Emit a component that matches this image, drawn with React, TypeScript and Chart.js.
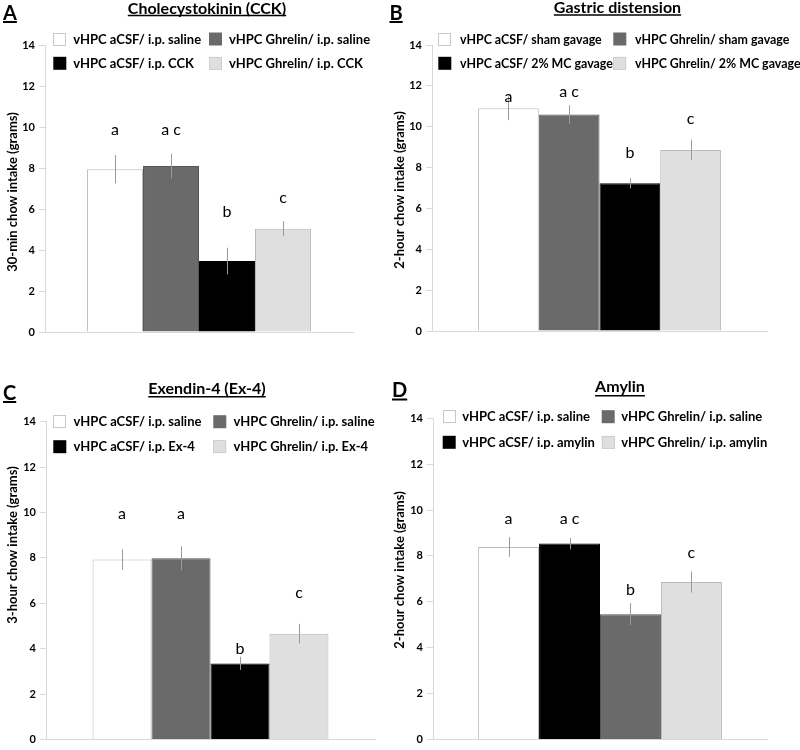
import React, { useEffect, useRef } from "react";
import { Chart, registerables } from "chart.js";

Chart.register(...registerables);

// ---------------- DATA ----------------
const yMin = 0;
const yMax = 14;
const yStep = 2;
const category = [""];

// Panel A – Cholecystokinin (CCK)
const titleA = "Cholecystokinin (CCK)";
const yTitleA = "30-min chow intake (grams)";
const groupsA = ["vHPC aCSF/ i.p. saline", "vHPC Ghrelin/ i.p. saline", "vHPC aCSF/ i.p. CCK", "vHPC Ghrelin/ i.p. CCK"];
const meansA = [7.94, 8.1, 3.46, 5.04];
const semA = [0.69, 0.6, 0.65, 0.37];
const sigA = ["a", "a c", "b", "c"];
const sigPosA = [9.59, 9.59, 5.61, 6.29];
const legendOrderA = [0, 1, 2, 3];

// Panel B – Gastric distension
const titleB = "Gastric distension";
const yTitleB = "2-hour chow intake (grams)";
const groupsB = ["vHPC aCSF/ sham gavage", "vHPC Ghrelin/ sham gavage", "vHPC aCSF/ 2% MC gavage", "vHPC Ghrelin/ 2% MC gavage"];
const meansB = [10.9, 10.6, 7.23, 8.86];
const semB = [0.58, 0.45, 0.25, 0.5];
const sigB = ["a", "a c", "b", "c"];
const sigPosB = [11.21, 11.45, 8.47, 10.13];
const legendOrderB = [0, 1, 2, 3];

// Panel C – Exendin-4 (Ex-4)
const titleC = "Exendin-4 (Ex-4)";
const yTitleC = "3-hour chow intake (grams)";
const groupsC = ["vHPC aCSF/ i.p. saline", "vHPC Ghrelin/ i.p. saline", "vHPC aCSF/ i.p. Ex-4", "vHPC Ghrelin/ i.p. Ex-4"];
const meansC = [7.93, 7.98, 3.35, 4.66];
const semC = [0.45, 0.53, 0.29, 0.43];
const sigC = ["a", "a", "b", "c"];
const sigPosC = [9.71, 9.71, 3.75, 6.22];
const legendOrderC = [0, 1, 2, 3];

// Panel D – Amylin (bars drawn in this order)
const titleD = "Amylin";
const yTitleD = "2-hour chow intake (grams)";
const groupsD = ["vHPC aCSF/ i.p. saline", "vHPC aCSF/ i.p. amylin", "vHPC Ghrelin/ i.p. saline", "vHPC Ghrelin/ i.p. amylin"];
const meansD = [8.39, 8.54, 5.46, 6.86];
const semD = [0.43, 0.25, 0.48, 0.46];
const sigD = ["a", "a c", "b", "c"];
const sigPosD = [9.39, 9.39, 6.28, 7.91];
const legendOrderD = [0, 2, 1, 3];

// ---------------- STYLE ----------------
const FONT = "Lato, 'Open Sans', sans-serif";
const FILL: Record<string, string> = { white: "#ffffff", gray: "#6a6a6a", black: "#000000", light: "#dfdfdf" };
const EDGE: Record<string, string> = { white: "#bcbcbc", gray: "#555555", black: "#000000", light: "#b8b8b8" };
const AXIS = "#d9d9d9";
const ERR = "#9a9a9a";

type PanelCfg = {
  letter: string;
  title: string;
  yTitle: string;
  groups: string[];
  means: number[];
  sem: number[];
  sig: string[];
  sigPos: number[];
  legendOrder: number[];
  colors: string[];
  x: number; y: number; w: number; h: number;
  area: { left: number; right: number; top: number; bottom: number };
  cat: number;
  titlePos: { x: number; base: number; ul: number };
  letterPos: { x: number; base: number; ul: number };
  yTitlePos: { x: number; y: number };
  legend: { cols: number[]; rows: number[]; dx: number; size: number };
};

const panels: PanelCfg[] = [
  {
    letter: "A", title: titleA, yTitle: yTitleA, groups: groupsA, means: meansA, sem: semA, sig: sigA, sigPos: sigPosA,
    legendOrder: legendOrderA, colors: ["white", "gray", "black", "light"],
    x: 0, y: 0, w: 388, h: 378,
    area: { left: 45, right: 353, top: 45, bottom: 332 }, cat: 0.727,
    titlePos: { x: 207, base: 13.5, ul: 15.5 }, letterPos: { x: 3, base: 19.5, ul: 22 },
    yTitlePos: { x: 13, y: 192 },
    legend: { cols: [53.3, 209], rows: [39, 63.3], dx: 20, size: 13 },
  },
  {
    letter: "B", title: titleB, yTitle: yTitleB, groups: groupsB, means: meansB, sem: semB, sig: sigB, sigPos: sigPosB,
    legendOrder: legendOrderB, colors: ["white", "gray", "black", "light"],
    x: 388, y: 0, w: 412, h: 378,
    area: { left: 44, right: 379, top: 45, bottom: 331 }, cat: 0.725,
    titlePos: { x: 229.5, base: 12.7, ul: 15 }, letterPos: { x: 1.5, base: 19.5, ul: 22 },
    yTitlePos: { x: 12, y: 190 },
    legend: { cols: [50.3, 225.3], rows: [39, 63.3], dx: 21.7, size: 12.4 },
  },
  {
    letter: "C", title: titleC, yTitle: yTitleC, groups: groupsC, means: meansC, sem: semC, sig: sigC, sigPos: sigPosC,
    legendOrder: legendOrderC, colors: ["white", "gray", "black", "light"],
    x: 0, y: 378, w: 388, h: 372,
    area: { left: 46, right: 375, top: 43.7, bottom: 366.3 }, cat: 0.717,
    titlePos: { x: 207, base: 16.3, ul: 18.7 }, letterPos: { x: 3, base: 21.5, ul: 24 },
    yTitlePos: { x: 13, y: 167 },
    legend: { cols: [53.3, 213.3], rows: [43.7, 68.7], dx: 20.3, size: 13 },
  },
  {
    letter: "D", title: titleD, yTitle: yTitleD, groups: groupsD, means: meansD, sem: semD, sig: sigD, sigPos: sigPosD,
    legendOrder: legendOrderD, colors: ["white", "black", "gray", "light"],
    x: 388, y: 378, w: 412, h: 372,
    area: { left: 45, right: 379, top: 40.3, bottom: 367 }, cat: 0.73,
    titlePos: { x: 232, base: 14.3, ul: 17.7 }, letterPos: { x: 4, base: 19, ul: 21.5 },
    yTitlePos: { x: 12, y: 192 },
    legend: { cols: [54.7, 213.7], rows: [38.7, 64.3], dx: 19.5, size: 13 },
  },
];

function makeDecor(cfg: PanelCfg) {
  return {
    id: "decor" + cfg.letter,
    afterDatasetsDraw(chart: any) {
      const ctx = chart.ctx as CanvasRenderingContext2D;
      const ys = chart.scales.y;
      ctx.save();
      chart.data.datasets.forEach((ds: any, i: number) => {
        const bar = chart.getDatasetMeta(i).data[0];
        const v = ds.data[0];
        const e = cfg.sem[i];
        const x = Math.round(bar.x) + 0.5;
        // error bar
        ctx.strokeStyle = ERR;
        ctx.lineWidth = 1;
        ctx.beginPath();
        ctx.moveTo(x, ys.getPixelForValue(v + e));
        ctx.lineTo(x, ys.getPixelForValue(v - e));
        ctx.stroke();
        // significance letters
        ctx.fillStyle = "#000";
        ctx.font = `16px ${FONT}`;
        ctx.textAlign = "center";
        ctx.textBaseline = "alphabetic";
        ctx.fillText(cfg.sig[i], bar.x, ys.getPixelForValue(cfg.sigPos[i]));
      });
      ctx.restore();
    },
    afterDraw(chart: any) {
      const ctx = chart.ctx as CanvasRenderingContext2D;
      ctx.save();
      ctx.fillStyle = "#000";
      ctx.strokeStyle = "#000";
      // title
      ctx.font = `bold 16px ${FONT}`;
      ctx.textAlign = "center";
      ctx.textBaseline = "alphabetic";
      ctx.fillText(cfg.title, cfg.titlePos.x, cfg.titlePos.base);
      const tw = ctx.measureText(cfg.title).width;
      ctx.lineWidth = 1.5;
      ctx.beginPath();
      ctx.moveTo(cfg.titlePos.x - tw / 2, cfg.titlePos.ul);
      ctx.lineTo(cfg.titlePos.x + tw / 2, cfg.titlePos.ul);
      ctx.stroke();
      // panel letter
      ctx.font = `bold 20px ${FONT}`;
      ctx.textAlign = "left";
      ctx.fillText(cfg.letter, cfg.letterPos.x, cfg.letterPos.base);
      const lw = ctx.measureText(cfg.letter).width;
      ctx.lineWidth = 2;
      ctx.beginPath();
      ctx.moveTo(cfg.letterPos.x, cfg.letterPos.ul);
      ctx.lineTo(cfg.letterPos.x + lw, cfg.letterPos.ul);
      ctx.stroke();
      // y title
      ctx.save();
      ctx.translate(cfg.yTitlePos.x, cfg.yTitlePos.y);
      ctx.rotate(-Math.PI / 2);
      ctx.font = `bold 13px ${FONT}`;
      ctx.textAlign = "center";
      ctx.textBaseline = "middle";
      ctx.fillText(cfg.yTitle, 0, 0);
      ctx.restore();
      // legend (2 columns, Excel style)
      ctx.font = `bold ${cfg.legend.size}px ${FONT}`;
      ctx.textAlign = "left";
      ctx.textBaseline = "middle";
      cfg.legendOrder.forEach((di, k) => {
        const ds = chart.data.datasets[di];
        const col = k % 2;
        const row = Math.floor(k / 2);
        const bx = cfg.legend.cols[col];
        const by = cfg.legend.rows[row];
        const c = cfg.colors[di];
        ctx.fillStyle = FILL[c];
        ctx.fillRect(bx, by - 6.5, 13, 13);
        if (c === "white" || c === "light") {
          ctx.strokeStyle = c === "white" ? "#c8c8c8" : "#cfcfcf";
          ctx.lineWidth = 1;
          ctx.strokeRect(Math.round(bx) + 0.5, Math.round(by - 6.5) + 0.5, 12, 12);
        }
        ctx.fillStyle = "#000";
        ctx.fillText(ds.label, bx + cfg.legend.dx, by + 0.5);
      });
      ctx.restore();
    },
  };
}

function Panel({ cfg }: { cfg: PanelCfg }) {
  const ref = useRef<HTMLCanvasElement>(null);
  useEffect(() => {
    const chart = new Chart(ref.current as HTMLCanvasElement, {
      type: "bar",
      data: {
        labels: category,
        datasets: cfg.groups.map((g, i) => ({
          label: g,
          data: [cfg.means[i]],
          backgroundColor: FILL[cfg.colors[i]],
          borderColor: EDGE[cfg.colors[i]],
          borderWidth: 1,
          categoryPercentage: cfg.cat,
          barPercentage: 1.0,
        })),
      },
      options: {
        animation: false,
        responsive: false,
        events: [],
        layout: {
          padding: {
            left: 0,
            right: cfg.w - cfg.area.right,
            top: cfg.area.top,
            bottom: cfg.h - cfg.area.bottom,
          },
        },
        plugins: {
          legend: { display: false },
          title: { display: false },
          tooltip: { enabled: false },
        },
        scales: {
          x: {
            grid: { display: false },
            ticks: { display: false },
            border: { display: true, color: AXIS, width: 1 },
            afterFit: (s: any) => { s.height = 0; },
          },
          y: {
            min: yMin,
            max: yMax,
            ticks: {
              stepSize: yStep,
              color: "#000",
              padding: 4,
              font: { family: FONT, size: 11, weight: "bold" },
            },
            grid: { display: true, drawOnChartArea: false, drawTicks: true, tickLength: 6, color: AXIS },
            border: { display: true, color: AXIS, width: 1 },
            afterFit: (s: any) => { s.width = cfg.area.left; },
          },
        },
      } as any,
      plugins: [makeDecor(cfg)],
    });
    return () => chart.destroy();
  }, [cfg]);
  return (
    <canvas
      ref={ref}
      width={cfg.w}
      height={cfg.h}
      style={{ position: "absolute", left: cfg.x, top: cfg.y, width: cfg.w, height: cfg.h }}
    />
  );
}

export default function App() {
  return (
    <div style={{ position: "absolute", left: 0, top: 0, width: 800, height: 750, background: "#fff" }}>
      {panels.map((p) => (
        <Panel key={p.letter} cfg={p} />
      ))}
    </div>
  );
}
